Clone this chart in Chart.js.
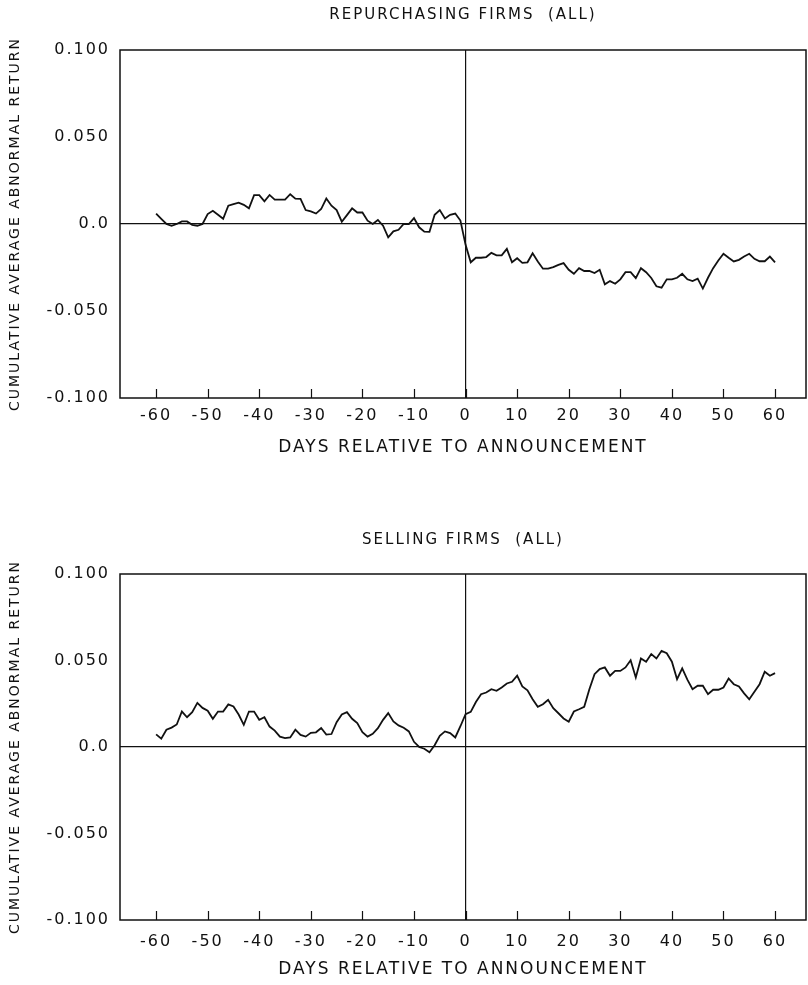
<!DOCTYPE html>
<html><head><meta charset="utf-8">
<script src="https://cdn.jsdelivr.net/npm/chart.js@4/dist/chart.umd.min.js"></script>
<style>
html,body{margin:0;padding:0;background:#fff;overflow:hidden;width:808px;height:985px;}
canvas{position:absolute;left:0;}
#c1{top:0;width:808px;height:490px;}
#c2{top:525px;width:808px;height:460px;}
</style></head><body>
<canvas id="c1" width="808" height="490"></canvas>
<canvas id="c2" width="808" height="460"></canvas>
<script>
// ---- data ----
const days = [-60,-59,-58,-57,-56,-55,-54,-53,-52,-51,-50,-49,-48,-47,-46,-45,-44,-43,-42,-41,
 -40,-39,-38,-37,-36,-35,-34,-33,-32,-31,-30,-29,-28,-27,-26,-25,-24,-23,-22,-21,
 -20,-19,-18,-17,-16,-15,-14,-13,-12,-11,-10,-9,-8,-7,-6,-5,-4,-3,-2,-1,
 0,1,2,3,4,5,6,7,8,9,10,11,12,13,14,15,16,17,18,19,
 20,21,22,23,24,25,26,27,28,29,30,31,32,33,34,35,36,37,38,39,
 40,41,42,43,44,45,46,47,48,49,50,51,52,53,54,55,56,57,58,59,60];

const repurchasingCAR = [
 0.006, 0.003, 0.0, -0.001, 0.0, 0.0015, 0.0015, -0.0005, -0.001, 0.0,
 0.0057, 0.0076, 0.0053, 0.003, 0.0105, 0.0114, 0.0123, 0.011, 0.009, 0.0166,
 0.0166, 0.013, 0.0167, 0.014, 0.014, 0.014, 0.0171, 0.0146, 0.0145, 0.008,
 0.0072, 0.006, 0.0086, 0.0146, 0.0105, 0.008, 0.0013, 0.0051, 0.009, 0.0066,
 0.0066, 0.0019, 0.0, 0.0023, -0.001, -0.0077, -0.0042, -0.0033, 0.0, 0.0,
 0.0034, -0.0019, -0.0044, -0.0045, 0.0053, 0.008, 0.0032, 0.0053, 0.006, 0.002,
 -0.012, -0.022, -0.0194, -0.0194, -0.019, -0.0166, -0.018, -0.018, -0.0143, -0.022,
 -0.0197, -0.0223, -0.022, -0.0168, -0.0215, -0.0257, -0.0257, -0.0248, -0.0235, -0.0225,
 -0.0263, -0.0286, -0.0254, -0.027, -0.027, -0.0282, -0.0263, -0.0347, -0.0328, -0.0343,
 -0.0318, -0.0277, -0.0277, -0.0311, -0.0254, -0.0277, -0.031, -0.0358, -0.0366, -0.0318,
 -0.0318, -0.0309, -0.0286, -0.0318, -0.0328, -0.0314, -0.0371, -0.0309, -0.0254, -0.021,
 -0.0171, -0.0194, -0.0215, -0.0206, -0.0187, -0.0171, -0.02, -0.0214, -0.0214, -0.0187, -0.022];

const sellingCAR = [
 0.0073, 0.0048, 0.01, 0.0112, 0.013, 0.0205, 0.0172, 0.0201, 0.0255, 0.0226,
 0.021, 0.0163, 0.0205, 0.0205, 0.0246, 0.0234, 0.0188, 0.0128, 0.0205, 0.0205,
 0.0157, 0.0172, 0.0118, 0.0095, 0.006, 0.0051, 0.0055, 0.01, 0.007, 0.006,
 0.0082, 0.0085, 0.011, 0.0072, 0.0075, 0.0143, 0.0188, 0.0201, 0.0163, 0.0138,
 0.0086, 0.006, 0.0076, 0.0109, 0.0157, 0.0196, 0.0148, 0.0125, 0.0111, 0.009,
 0.003, 0.0, -0.001, -0.003, 0.001, 0.0065, 0.009, 0.008, 0.0055, 0.012,
 0.019, 0.0203, 0.026, 0.0305, 0.0315, 0.0334, 0.0325, 0.0344, 0.0367, 0.0377,
 0.0412, 0.035, 0.0328, 0.0276, 0.0232, 0.0247, 0.0273, 0.0224, 0.0195, 0.0165,
 0.0146, 0.0205, 0.0218, 0.0232, 0.0334, 0.0421, 0.045, 0.046, 0.0412, 0.044,
 0.044, 0.046, 0.0502, 0.0402, 0.0512, 0.0493, 0.0537, 0.0512, 0.0556, 0.0542,
 0.0493, 0.0392, 0.0454, 0.0389, 0.0334, 0.0354, 0.0354, 0.0305, 0.0331, 0.0331,
 0.0344, 0.0396, 0.0363, 0.035, 0.031, 0.0276, 0.0319, 0.0363, 0.0435, 0.0412, 0.0427];

const xTickValues = [-60,-50,-40,-30,-20,-10,0,10,20,30,40,50,60];
const yTickValues = [-0.1,-0.05,0,0.05,0.1];
const yTickLabels = ['-0.100','-0.050','0.0','0.050','0.100'];
const chartTitles = ['REPURCHASING FIRMS  (ALL)', 'SELLING FIRMS  (ALL)'];
const xAxisTitle = 'DAYS RELATIVE TO ANNOUNCEMENT';
const yAxisTitle = 'CUMULATIVE AVERAGE ABNORMAL RETURN';

// ---- rendering ----
const INK = '#111';
Chart.defaults.font.family = "'DejaVu Sans', 'Liberation Sans', sans-serif";
Chart.defaults.color = INK;

const spacing = '2px';
const framePlugin = {
  id: 'frameTicks',
  afterInit(chart){ chart.ctx.letterSpacing = spacing; },
  beforeUpdate(chart){ chart.ctx.letterSpacing = spacing; },
  beforeDraw(chart){ chart.ctx.letterSpacing = spacing; },
  afterDraw(chart){
    const {ctx, chartArea: a, scales: {x}} = chart;
    ctx.save();
    ctx.strokeStyle = INK;
    ctx.lineWidth = 1.2;
    ctx.beginPath();
    xTickValues.forEach(v => {
      const px = Math.round(x.getPixelForValue(v)) + 0.5;
      ctx.moveTo(px, a.bottom);
      ctx.lineTo(px, a.bottom - 9);
    });
    ctx.stroke();
    ctx.lineWidth = 1.5;
    ctx.strokeRect(a.left, a.top, a.right - a.left, a.bottom - a.top);
    ctx.restore();
  }
};

function zeroColor(c){ return (c.tick && Math.abs(c.tick.value) < 1e-9) ? INK : 'rgba(0,0,0,0)'; }

function makeChart(id, title, values, L){
  const H = L.H;
  new Chart(document.getElementById(id), {
    type: 'line',
    data: {
      datasets: [{
        data: days.map((d, i) => ({x: d, y: values[i]})),
        borderColor: INK, borderWidth: 1.8, pointRadius: 0, tension: 0, fill: false
      }]
    },
    options: {
      responsive: false, animation: false, devicePixelRatio: 1,
      layout: {padding: {left: 0, right: 2, top: 0, bottom: 0}},
      plugins: {
        legend: {display: false}, tooltip: {enabled: false},
        title: {display: true, text: title, fullSize: false, color: INK,
          font: {size: 15, weight: 'normal'},
          padding: {top: 6, bottom: L.A - 24}}
      },
      scales: {
        x: {
          type: 'linear', min: -67, max: 66,
          afterBuildTicks: ax => { ax.ticks = xTickValues.map(v => ({value: v})); },
          afterFit: ax => { ax.height = H - L.B; },
          ticks: {padding: L.tickPad, color: INK, font: {size: 16}, maxRotation: 0, autoSkip: false},
          grid: {drawTicks: false, color: zeroColor, lineWidth: 1.2},
          border: {display: false},
          title: {display: true, text: xAxisTitle, color: INK, font: {size: 17},
            padding: {top: 0, bottom: L.xTitlePad}}
        },
        y: {
          type: 'linear', min: -0.1, max: 0.1,
          afterBuildTicks: ax => { ax.ticks = yTickValues.map(v => ({value: v})); },
          afterFit: ax => { ax.width = 120; },
          ticks: {padding: 10, color: INK, font: {size: 16},
            callback: (v, i) => yTickLabels[i]},
          grid: {drawTicks: false, color: zeroColor, lineWidth: 1.2},
          border: {display: false},
          title: {display: true, text: yAxisTitle, color: INK, font: {size: 14},
            padding: {top: 7, bottom: 0}}
        }
      }
    },
    plugins: [framePlugin]
  });
}

makeChart('c1', chartTitles[0], repurchasingCAR, {H: 490, A: 50, B: 398, tickPad: 8, xTitlePad: 32});
makeChart('c2', chartTitles[1], sellingCAR, {H: 460, A: 49, B: 395, tickPad: 12, xTitlePad: 5});
</script>
</body></html>
